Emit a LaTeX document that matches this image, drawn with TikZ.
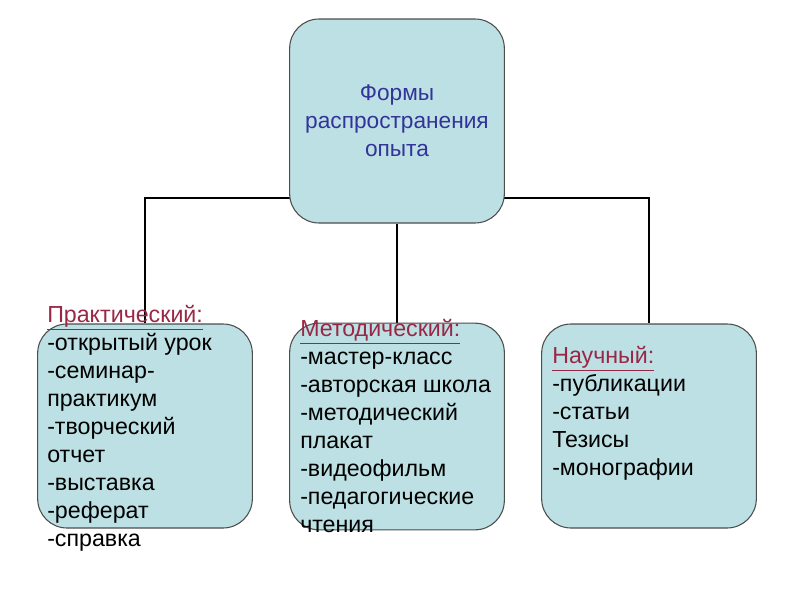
\documentclass[tikz,border=0pt]{standalone}
\usepackage{fontspec}
\setmainfont{Liberation Sans}
\usetikzlibrary{backgrounds}
\definecolor{boxfill}{RGB}{188,224,227}
\definecolor{boxline}{RGB}{77,77,77}
\definecolor{textblue}{RGB}{51,51,153}
\definecolor{headred}{RGB}{153,40,70}
\newcommand{\headline}[1]{{\color{headred}\underline{#1}}}
\begin{document}
\begin{tikzpicture}[
  x=0.75pt, y=-0.75pt,
  every node/.style={font=\fontsize{17.4}{21}\selectfont},
  box/.style={
    draw=boxline,
    fill=boxfill,
    line width=0.8pt,
    rounded corners=22pt,
    minimum width=161pt,
    minimum height=153pt
  },
  list/.style={align=left, anchor=north west, inner sep=0pt},
  link/.style={line width=1.4pt}
]
\useasboundingbox (0,0) rectangle (800,600);
\node[box, text=textblue, align=center, font=\fontsize{17}{21}\selectfont] (forms) at (397,121) {Формы\\распространения\\опыта};
\node[box] (prakt) at (145,426) {};
\node[box, minimum height=155pt] (metod) at (397,426.5) {};
\node[box] (nauch) at (649,426) {};
\coordinate (bus) at (397,198);
\begin{scope}[on background layer]
\draw[link] (prakt.north) |- (bus) -| (nauch.north);
\draw[link] (forms.south) -- (metod.north);
\end{scope}
\node[list] (praktlist) at (47,305) {\headline{Практический:}\\-открытый урок\\-семинар-\\практикум\\-творческий\\отчет\\-выставка\\-реферат\\-справка};
\node[list] (metodlist) at (300,319) {\headline{Методический:}\\-мастер-класс\\-авторская школа\\-методический\\плакат\\-видеофильм\\-педагогические\\чтения};
\node[list] (nauchlist) at (552,346) {\headline{Научный:}\\-публикации\\-статьи\\Тезисы\\-монографии};
\end{tikzpicture}
\end{document}
